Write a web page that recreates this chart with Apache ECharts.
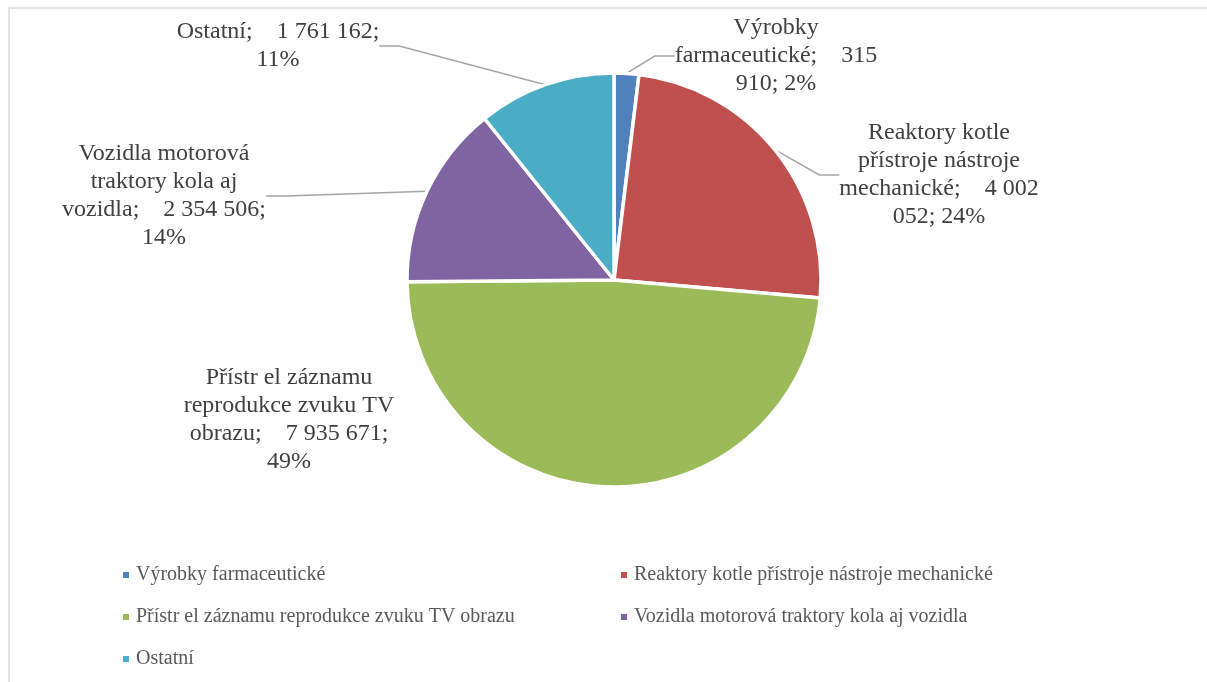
<!DOCTYPE html>
<html>
<head>
<meta charset="utf-8">
<title>Pie</title>
<script src="https://cdn.jsdelivr.net/npm/echarts@6/dist/echarts.min.js"></script>
<style>
  html, body { margin: 0; padding: 0; background: #fff; }
  #main { width: 1207px; height: 682px; }
</style>
</head>
<body>
<div id="main"></div>
<script>
var categories = [
    'Výrobky farmaceutické',
    'Reaktory kotle přístroje nástroje mechanické',
    'Přístr el záznamu reprodukce zvuku TV obrazu',
    'Vozidla motorová traktory kola aj vozidla',
    'Ostatní'
];
var values = [315910, 4002052, 7935671, 2354506, 1761162];
var colors = ['#4F81BD', '#C0504D', '#9BBB59', '#8064A2', '#4BACC6'];

// where each data label sits (center of the text block)
var labelPos = [[776, 56], [939, 175], [289, 420], [164, 196], [278, 46]];
// legend grid: [left, top] of each item
var legendPos = [[121, 565], [619, 565], [121, 607], [619, 607], [121, 649]];

var LABEL_FONT = '24px "Liberation Serif"';
var LABEL_WIDTH = 215;

function czNum(v) {
    return String(v).replace(/\B(?=(\d{3})+(?!\d))/g, ' ');
}

// greedy word wrap, like the data labels in the original
var ctx = document.createElement('canvas').getContext('2d');
ctx.font = LABEL_FONT;
function wrap(text, maxW) {
    var parts = text.split(/(\s+)/);
    var lines = [];
    var line = parts[0];
    for (var k = 1; k < parts.length; k += 2) {
        var sep = parts[k], word = parts[k + 1];
        if (ctx.measureText(line + sep + word).width <= maxW) {
            line += sep + word;
        } else {
            lines.push(line);
            line = word;
        }
    }
    lines.push(line);
    return lines.join('\n');
}

var myChart = echarts.init(document.getElementById('main'));

var data = [];
for (var i = 0; i < categories.length; i++) {
    data.push({
        name: categories[i],
        value: values[i],
        itemStyle: { color: colors[i] },
        labelLine: { show: i !== 2 }
    });
}

var legends = [];
for (var j = 0; j < categories.length; j++) {
    legends.push({
        data: [categories[j]],
        left: legendPos[j][0],
        top: legendPos[j][1],
        padding: 0,
        icon: 'rect',
        itemWidth: 8,
        itemHeight: 8,
        selectedMode: false,
        textStyle: {
            fontFamily: 'Liberation Serif',
            fontSize: 20,
            lineHeight: 20,
            color: '#595959',
            padding: [0, 0, 0, 1]
        }
    });
}

var option = {
    animation: false,
    color: colors,
    graphic: [{
        type: 'rect',
        shape: { x: 9, y: 8, width: 1300, height: 800 },
        style: { fill: 'none', stroke: '#D9D9D9', lineWidth: 1.5 },
        silent: true
    }],
    legend: legends,
    series: [{
        type: 'pie',
        center: [614, 280],
        radius: 207,
        startAngle: 90,
        clockwise: true,
        percentPrecision: 0,
        data: data,
        itemStyle: { borderColor: '#fff', borderWidth: 3.5 },
        label: {
            show: true,
            position: 'outside',
            formatter: function (p) {
                var txt = p.name + ';    ' + czNum(p.value) + '; ' + p.percent + '%';
                return wrap(txt, LABEL_WIDTH);
            },
            fontFamily: 'Liberation Serif',
            fontSize: 24,
            lineHeight: 28,
            color: '#404040',
            align: 'center'
        },
        labelLine: {
            show: true,
            length: 20,
            length2: 20,
            lineStyle: { color: '#A6A6A6', width: 1.5 }
        },
        labelLayout: function (params) {
            var pos = labelPos[params.dataIndex];
            return {
                x: pos[0],
                y: pos[1],
                align: 'center',
                verticalAlign: 'middle'
            };
        }
    }]
};
myChart.setOption(option);
</script>
</body>
</html>
